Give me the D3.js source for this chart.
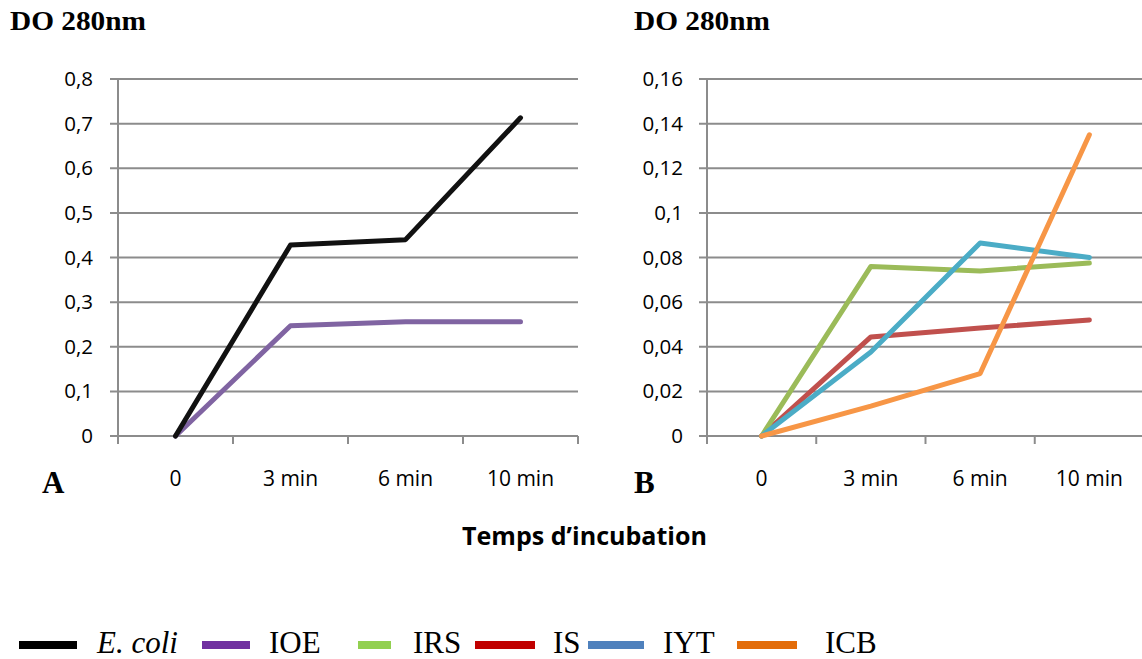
<!DOCTYPE html>
<html>
<head>
<meta charset="utf-8">
<script src="https://cdn.jsdelivr.net/npm/d3@7"></script>
<style>
body { margin: 0; background: #fff; }
svg { display: block; }
</style>
</head>
<body>
<svg id="chart"></svg>
<script>
// data
const times = ["0", "3 min", "6 min", "10 min"];
const ecoli = [0, 0.428, 0.44, 0.713];
const ioe = [0, 0.247, 0.256, 0.256];
const irs = [0, 0.076, 0.074, 0.0775];
const is_ = [0, 0.0444, 0.0484, 0.052];
const iyt = [0, 0.0376, 0.0865, 0.080];
const icb = [0, 0.0134, 0.028, 0.135];
const ticksA = [0, 0.1, 0.2, 0.3, 0.4, 0.5, 0.6, 0.7, 0.8];
const ticksB = [0, 0.02, 0.04, 0.06, 0.08, 0.1, 0.12, 0.14, 0.16];

const seriesA = [
    {name: "IOE", values: ioe, color: "#8064A2"},
    {name: "E. coli", values: ecoli, color: "#111111"}
];
const seriesB = [
    {name: "IS", values: is_, color: "#C0504D"},
    {name: "IRS", values: irs, color: "#9BBB59"},
    {name: "IYT", values: iyt, color: "#4BACC6"},
    {name: "ICB", values: icb, color: "#F79646"}
];
const legendItems = [
    {name: "E. coli", color: "#000000", italic: true, x0: 19, x1: 77, tx: 97},
    {name: "IOE", color: "#7030A0", x0: 202, x1: 250, tx: 269},
    {name: "IRS", color: "#92D050", x0: 358, x1: 391, tx: 413},
    {name: "IS", color: "#C00000", x0: 475, x1: 535, tx: 553},
    {name: "IYT", color: "#4F81BD", x0: 588, x1: 644, tx: 663},
    {name: "ICB", color: "#E36C09", x0: 737, x1: 797, tx: 825}
];

const W = 1142, H = 659;
const svg = d3.select("#chart").attr("width", W).attr("height", H);

const tickFmt = d => String(d).replace(".", ",");
const serif = "'Liberation Serif', 'Times New Roman', serif";
const sans = "'Open Sans', sans-serif";

function drawPanel(left, right, top, bottom, ticks, series, letter, titleX, labelRight) {
    const g = svg.append("g");
    const x = d3.scaleBand().domain(times).range([left, right]);
    const y = d3.scaleLinear().domain([0, ticks[ticks.length - 1]]).range([bottom, top]);

    // gridlines
    g.selectAll("line.grid")
        .data(ticks)
        .join("line")
        .attr("x1", left - 8)
        .attr("x2", right)
        .attr("y1", d => y(d))
        .attr("y2", d => y(d))
        .attr("stroke", "#8c8c8c")
        .attr("stroke-width", 2);

    // y axis line
    g.append("line")
        .attr("x1", left).attr("x2", left)
        .attr("y1", top).attr("y2", bottom + 8)
        .attr("stroke", "#8c8c8c").attr("stroke-width", 2);

    // x ticks between categories
    const edges = times.map(t => x(t)).concat([right]);
    g.selectAll("line.xt")
        .data(edges.slice(1))
        .join("line")
        .attr("x1", d => d).attr("x2", d => d)
        .attr("y1", bottom).attr("y2", bottom + 8)
        .attr("stroke", "#8c8c8c").attr("stroke-width", 2);

    // y labels
    g.selectAll("text.yl")
        .data(ticks)
        .join("text")
        .attr("x", labelRight)
        .attr("y", d => y(d) + 7)
        .attr("text-anchor", "end")
        .attr("font-family", sans)
        .attr("font-size", 20.5)
        .attr("fill", "#000")
        .text(tickFmt);

    // x labels
    g.selectAll("text.xl")
        .data(times)
        .join("text")
        .attr("x", d => x(d) + x.bandwidth() / 2)
        .attr("y", 486)
        .attr("text-anchor", "middle")
        .attr("font-family", sans)
        .attr("font-size", 21)
        .attr("fill", "#000")
        .text(d => d);

    const line = d3.line()
        .x((d, i) => x(times[i]) + x.bandwidth() / 2)
        .y(d => y(d));

    g.selectAll("path.s")
        .data(series)
        .join("path")
        .attr("d", d => line(d.values))
        .attr("fill", "none")
        .attr("stroke", d => d.color)
        .attr("stroke-width", 5)
        .attr("stroke-linejoin", "round")
        .attr("stroke-linecap", "round");

    svg.append("text")
        .attr("x", titleX).attr("y", 30)
        .attr("font-family", serif)
        .attr("font-weight", "bold")
        .attr("font-size", 27)
        .attr("textLength", 136)
        .attr("lengthAdjust", "spacingAndGlyphs")
        .text("DO 280nm");

    svg.append("text")
        .attr("x", letter.x).attr("y", 493)
        .attr("font-family", serif)
        .attr("font-weight", "bold")
        .attr("font-size", 31)
        .text(letter.t);
}

drawPanel(118, 578, 79, 436, ticksA, seriesA, {t: "A", x: 42}, 10, 93);
drawPanel(707, 1144, 79, 436, ticksB, seriesB, {t: "B", x: 634}, 634, 683);

svg.append("text")
    .attr("x", 462).attr("y", 545)
    .attr("font-family", sans)
    .attr("font-weight", "bold")
    .attr("font-size", 25)
    .attr("textLength", 245)
    .attr("lengthAdjust", "spacingAndGlyphs")
    .text("Temps  d\u2019incubation");

// legend
const lg = svg.append("g");
lg.selectAll("rect")
    .data(legendItems)
    .join("rect")
    .attr("x", d => d.x0)
    .attr("y", 641)
    .attr("width", d => d.x1 - d.x0)
    .attr("height", 8)
    .attr("fill", d => d.color);
lg.selectAll("text")
    .data(legendItems)
    .join("text")
    .attr("x", d => d.tx)
    .attr("y", 653)
    .attr("font-family", serif)
    .attr("font-style", d => d.italic ? "italic" : "normal")
    .attr("font-size", 31)
    .text(d => d.name);
</script>
</body>
</html>
